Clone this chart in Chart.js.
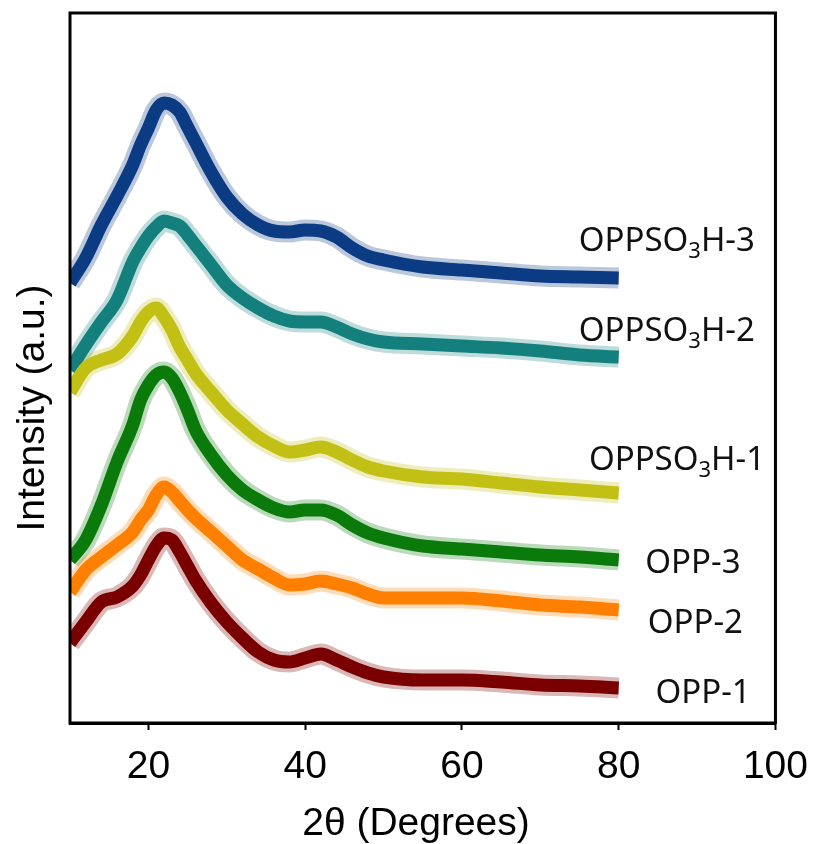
<!DOCTYPE html>
<html>
<head>
<meta charset="utf-8">
<title>XRD patterns</title>
<script src="https://cdn.jsdelivr.net/npm/chart.js@4.4.1/dist/chart.umd.min.js"></script>
<style>
  body { margin: 0; background: #fff; }
  canvas { display: block; }
</style>
</head>
<body>
<canvas id="xrdChart" width="822" height="844"></canvas>
<script>
// =====================
// DATA (intensity in a.u.)
// =====================

const twoTheta = [10, 12, 14, 16, 18, 19, 20, 21, 22, 23, 24, 25, 26, 28, 30, 32, 34, 36, 38, 40, 42, 44, 46, 48, 50, 55, 60, 65, 70, 75, 80];
const xTicks = [20, 40, 60, 80, 100];

const opp1     = [80, 101, 121, 126, 137, 148, 163, 177, 185, 183, 171, 157, 143, 120, 101, 85, 71, 63, 61, 65, 69, 63, 56, 50, 46, 43, 43, 41, 38, 37, 35];
const opp2     = [131, 153, 166, 178, 191, 203, 213, 228, 236, 231, 222, 213, 205, 191, 177, 163, 154, 145, 138, 139, 142, 139, 135, 129, 125, 125, 125, 122, 118, 116, 113];
const opp3     = [163, 183, 218, 261, 298, 323, 338, 348, 351, 345, 331, 313, 293, 268, 248, 233, 223, 215, 211, 213, 213, 208, 198, 190, 185, 177, 174, 171, 168, 166, 163];
const oppso3h1 = [331, 355, 363, 369, 387, 401, 411, 415, 406, 393, 376, 363, 350, 331, 313, 299, 286, 277, 271, 273, 276, 271, 263, 256, 252, 246, 244, 240, 236, 233, 230];
const oppso3h2 = [353, 378, 401, 423, 461, 475, 487, 496, 502, 500, 497, 488, 478, 458, 438, 425, 415, 407, 402, 401, 401, 396, 389, 384, 381, 379, 377, 375, 372, 368, 366];
const oppso3h3 = [440, 465, 498, 527, 558, 578, 595, 613, 620, 618, 611, 596, 581, 551, 526, 509, 498, 492, 491, 493, 492, 486, 475, 467, 463, 456, 453, 450, 447, 446, 445];

const seriesNames  = ["OPP-1", "OPP-2", "OPP-3", "OPPSO3H-1", "OPPSO3H-2", "OPPSO3H-3"];
const seriesValues = [opp1, opp2, opp3, oppso3h1, oppso3h2, oppso3h3];
const seriesColors = ["#7a0000", "#ff8000", "#0a7a0a", "#c2c015", "#14807e", "#0b3b82"];
const haloColors   = ["rgba(122,0,0,0.28)", "rgba(255,128,0,0.28)", "rgba(10,122,10,0.28)", "rgba(194,192,21,0.28)", "rgba(20,128,126,0.28)", "rgba(11,59,130,0.28)"];

// where each curve's name sits (left edge in degrees, baseline in a.u.)
const labelAnchors = [
  { x: 84.7, y: 20 },
  { x: 83.7, y: 90 },
  { x: 83.4, y: 150 },
  { x: 76.2, y: 253 },
  { x: 74.9, y: 382 },
  { x: 74.9, y: 472 }
];


// =====================
// PLUGINS
// =====================

const framePlugin = {
  id: "frame",
  afterDraw(chart) {
    const { ctx, chartArea: a } = chart;
    ctx.save();
    ctx.strokeStyle = "#000";
    ctx.lineWidth = 3;
    ctx.strokeRect(a.left, a.top, a.right - a.left, a.bottom - a.top);
    ctx.restore();
  }
};

const textPlugin = {
  id: "texts",
  afterDraw(chart) {
    const { ctx } = chart;
    const x = chart.scales.x;
    const y = chart.scales.y;

    ctx.save();
    ctx.fillStyle = "#111";
    ctx.textBaseline = "alphabetic";
    ctx.textAlign = "left";

    // curve names, with the 3 in SO3 as a subscript
    seriesNames.forEach((name, i) => {
      let px = x.getPixelForValue(labelAnchors[i].x);
      const py = y.getPixelForValue(labelAnchors[i].y);
      const parts = name.split("SO3");
      ctx.font = "33px 'Noto Sans'";
      if (parts.length === 2) {
        ctx.fillText(parts[0] + "SO", px, py);
        px += ctx.measureText(parts[0] + "SO").width;
        ctx.font = "22px 'Noto Sans'";
        ctx.fillText("3", px, py + 7);
        px += ctx.measureText("3").width;
        ctx.font = "33px 'Noto Sans'";
        ctx.fillText(parts[1], px, py);
      } else {
        ctx.fillText(name, px, py);
      }
    });

    // axis titles
    ctx.fillStyle = "#000";
    ctx.font = "39px 'Liberation Sans', Arial, sans-serif";
    ctx.textAlign = "center";
    ctx.fillText("2θ (Degrees)", 416, 835);

    ctx.translate(44, 408);
    ctx.rotate(-Math.PI / 2);
    ctx.fillText("Intensity (a.u.)", 0, 0);
    ctx.restore();
  }
};


// =====================
// CHART
// =====================

function points(values) {
  return twoTheta.map((t, k) => ({ x: t, y: values[k] }));
}

// light wide band under each curve stands in for the noise spikes
const halos = seriesNames.map((name, i) => ({
  label: name + " band",
  data: points(seriesValues[i]),
  borderColor: haloColors[i],
  borderWidth: 21,
  pointRadius: 0,
  cubicInterpolationMode: "monotone",
  borderJoinStyle: "round",
  order: 1
}));

const cores = seriesNames.map((name, i) => ({
  label: name,
  data: points(seriesValues[i]),
  borderColor: seriesColors[i],
  backgroundColor: seriesColors[i],
  borderWidth: 13,
  pointRadius: 0,
  cubicInterpolationMode: "monotone",
  borderJoinStyle: "round",
  order: 0
}));

new Chart(document.getElementById("xrdChart"), {
  type: "line",
  data: { datasets: [...halos, ...cores] },
  options: {
    responsive: false,
    animation: false,
    layout: { padding: { left: 70, right: 41, top: 13, bottom: 0 } },
    plugins: {
      legend: { display: false },
      tooltip: { enabled: false }
    },
    scales: {
      x: {
        type: "linear",
        min: 10,
        max: 100,
        afterBuildTicks: scale => { scale.ticks = xTicks.map(v => ({ value: v })); },
        afterFit: scale => { scale.height = 121; },
        ticks: {
          color: "#000",
          font: { family: "'Liberation Sans', Arial, sans-serif", size: 39 },
          padding: 14,
          maxRotation: 0,
          autoSkip: false
        },
        grid: {
          display: true,
          drawOnChartArea: false,
          drawTicks: true,
          tickLength: 7,
          tickWidth: 2,
          tickColor: "#000"
        },
        border: { display: true, color: "#000", width: 3 }
      },
      y: {
        display: false,
        min: 0,
        max: 710
      }
    }
  },
  plugins: [framePlugin, textPlugin]
});
</script>
</body>
</html>
